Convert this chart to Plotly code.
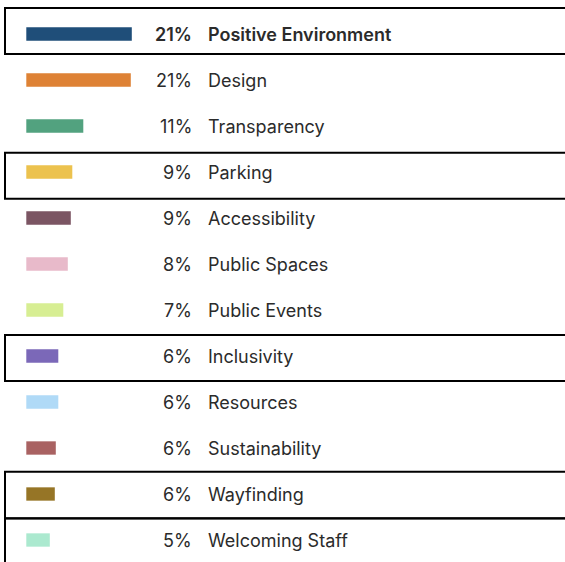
import plotly.graph_objects as go

categories = ["Positive Environment", "Design", "Transparency", "Parking", "Accessibility",
              "Public Spaces", "Public Events", "Inclusivity", "Resources", "Sustainability",
              "Wayfinding", "Welcoming Staff"]
values = [21.1, 20.9, 11.4, 9.2, 8.9, 8.3, 7.4, 6.4, 6.4, 5.9, 5.7, 4.7]
pct_labels = ["21%", "21%", "11%", "9%", "9%", "8%", "7%", "6%", "6%", "6%", "6%", "5%"]
colors = ["#1F4E79", "#DE8235", "#52A27F", "#ECC24E", "#7B5563", "#E8BACA",
          "#D7EE93", "#7B68B8", "#B0DAF7", "#A96262", "#967526", "#ABE9CF"]
highlighted = [0, 3, 7, 10, 11]
box_offsets = {0: (-0.565, 0.435), 3: (-0.42, 0.58), 7: (-0.457, 0.543),
               10: (-0.485, 0.527), 11: (-0.47, 1.0)}

W, H = 565, 562
px_per_unit = 5.0
x0_px = 26.3
row0_px, pitch = 34, 46

fig = go.Figure(go.Bar(
    x=values, y=categories, orientation="h",
    marker=dict(color=colors, line=dict(width=0)),
    width=0.29, hoverinfo="skip",
))

annotations = []
for i, (cat, lab) in enumerate(zip(categories, pct_labels)):
    weight = 600 if i == 0 else 400
    annotations.append(dict(x=194 / W, xref="paper", y=cat, yref="y", text=lab,
                            showarrow=False, xanchor="right", yanchor="middle",
                            font=dict(family="Inter", size=18, color="#2B2B2B", weight=weight)))
    annotations.append(dict(x=206 / W, xref="paper", y=cat, yref="y", text=cat,
                            showarrow=False, xanchor="left", yanchor="middle",
                            font=dict(family="Inter", size=18, color="#2B2B2B", weight=weight)))

shapes = []
for i in highlighted:
    a, b = box_offsets[i]
    shapes.append(dict(type="rect", xref="paper", yref="y", x0=5 / W, x1=1.05,
                       y0=i + a, y1=i + b, line=dict(color="#000000", width=2),
                       fillcolor="rgba(0,0,0,0)", layer="above"))

fig.update_layout(
    width=W, height=H, margin=dict(l=0, r=0, t=0, b=0),
    paper_bgcolor="white", plot_bgcolor="white", showlegend=False,
    annotations=annotations, shapes=shapes,
    xaxis=dict(range=[-x0_px / px_per_unit, (W - x0_px) / px_per_unit], visible=False, fixedrange=True),
    yaxis=dict(type="category", categoryorder="array", categoryarray=categories,
               range=[(H - row0_px) / pitch, -row0_px / pitch], visible=False, fixedrange=True),
)

fig.write_html("out.html", config={"displayModeBar": False},
               post_script="document.body.style.margin='0';document.body.style.overflow='hidden';")
